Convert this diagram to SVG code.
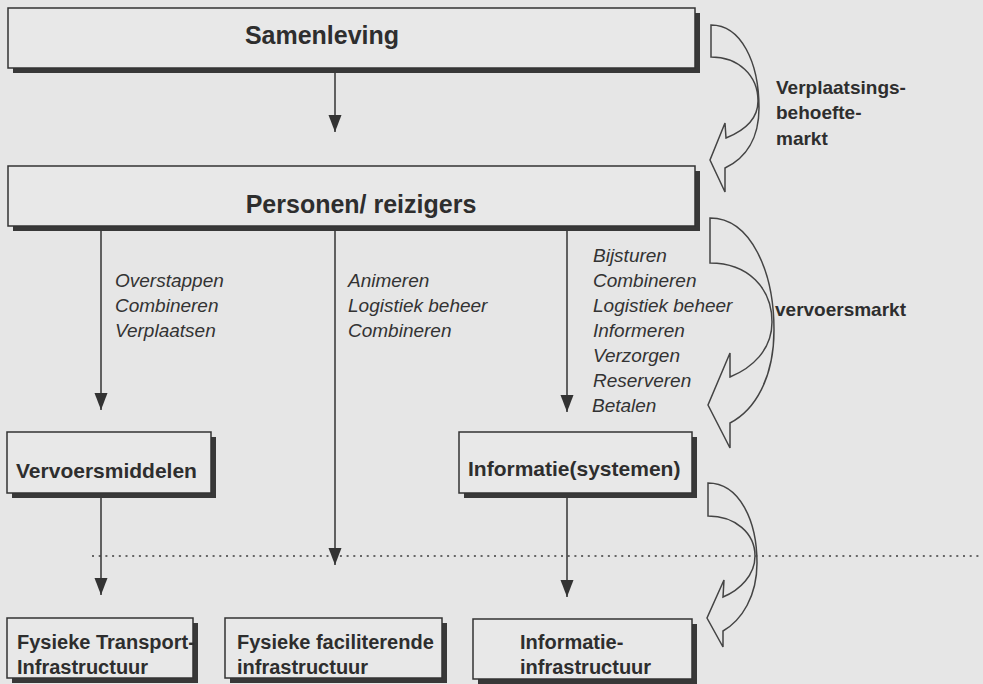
<svg xmlns="http://www.w3.org/2000/svg" width="983" height="684" viewBox="0 0 983 684">
  <defs>
    <style>
      .bg{fill:#e6e6e6}
      .box{fill:#e8e8e8;stroke:#333;stroke-width:1.5}
      .shadow{fill:none;stroke:#383838;stroke-width:5}
      .lbl{font-family:"Liberation Sans",Arial,sans-serif;font-weight:bold;fill:#2e2e2e}
      .big{font-size:25px}
      .mid{font-size:21px}
      .sm{font-size:20px}
      .side{font-family:"Liberation Sans",Arial,sans-serif;font-weight:bold;font-size:19px;fill:#2e2e2e}
      .it{font-family:"Liberation Sans",Arial,sans-serif;font-style:italic;font-size:19px;fill:#333}
      .conn{stroke:#333;stroke-width:1.5;fill:none}
      .curve{fill:none;stroke:#444;stroke-width:1.5;stroke-linejoin:miter}
      .dots{stroke:#666;stroke-width:2;stroke-dasharray:2 4.7;fill:none}
    </style>
    <marker id="ah" markerUnits="userSpaceOnUse" markerWidth="18" markerHeight="14" refX="17" refY="6.5" orient="auto">
      <path d="M0,0 L17,6.5 L0,13 z" fill="#333"/>
    </marker>
  </defs>

  <rect class="bg" x="0" y="0" width="983" height="684"/>

  <!-- boundary between layers -->
  <path class="dots" d="M92,556 H983"/>

  <g id="samenleving">
    <path class="shadow" d="M13,70.5 H697.5 V13"/>
    <rect class="box" x="8" y="8" width="687" height="60"/>
    <text class="lbl big" x="322" y="44" text-anchor="middle">Samenleving</text>
  </g>

  <g id="personen">
    <path class="shadow" d="M13,228.5 H697.5 V171"/>
    <rect class="box" x="8" y="166" width="687" height="60"/>
    <text class="lbl big" x="361" y="213" text-anchor="middle">Personen/ reizigers</text>
  </g>

  <g id="vervoersmiddelen">
    <path class="shadow" d="M12,495.5 H213.5 V437"/>
    <rect class="box" x="7" y="432" width="204" height="61"/>
    <text class="lbl mid" x="16" y="478">Vervoersmiddelen</text>
  </g>

  <g id="informatiesystemen">
    <path class="shadow" d="M464,495.5 H694.5 V437"/>
    <rect class="box" x="459" y="432" width="233" height="61"/>
    <text class="lbl mid" x="468" y="476">Informatie(systemen)</text>
  </g>

  <g id="transport-infra">
    <path class="shadow" d="M12,680.5 H195.5 V623"/>
    <rect class="box" x="7" y="618" width="186" height="60"/>
    <text class="lbl sm" x="17" y="649">Fysieke Transport-</text>
    <text class="lbl sm" x="17" y="674">Infrastructuur</text>
  </g>

  <g id="faciliterende-infra">
    <path class="shadow" d="M230,680.5 H444.5 V623"/>
    <rect class="box" x="225" y="618" width="217" height="60"/>
    <text class="lbl sm" x="237" y="649">Fysieke faciliterende</text>
    <text class="lbl sm" x="237" y="674">infrastructuur</text>
  </g>

  <g id="informatie-infra">
    <path class="shadow" d="M478,681.5 H694.5 V624"/>
    <rect class="box" x="473" y="619" width="219" height="60"/>
    <text class="lbl sm" x="520" y="649">Informatie-</text>
    <text class="lbl sm" x="520" y="674">infrastructuur</text>
  </g>

  <g id="connectors">
    <path class="conn" d="M335,73 V132" marker-end="url(#ah)"/>
    <path class="conn" d="M101,231 V410" marker-end="url(#ah)"/>
    <path class="conn" d="M335,231 V565" marker-end="url(#ah)"/>
    <path class="conn" d="M567,231 V412" marker-end="url(#ah)"/>
    <path class="conn" d="M101,498 V595" marker-end="url(#ah)"/>
    <path class="conn" d="M567,498 V597" marker-end="url(#ah)"/>
  </g>

  <g id="activity-labels">
    <text class="it" x="115" y="287">Overstappen</text>
    <text class="it" x="115" y="312">Combineren</text>
    <text class="it" x="115" y="337">Verplaatsen</text>
    <text class="it" x="348" y="287">Animeren</text>
    <text class="it" x="348" y="312">Logistiek beheer</text>
    <text class="it" x="348" y="337">Combineren</text>
    <text class="it" x="593" y="262">Bijsturen</text>
    <text class="it" x="593" y="287">Combineren</text>
    <text class="it" x="593" y="312">Logistiek beheer</text>
    <text class="it" x="593" y="337">Informeren</text>
    <text class="it" x="593" y="362">Verzorgen</text>
    <text class="it" x="593" y="387">Reserveren</text>
    <text class="it" x="592" y="412">Betalen</text>
  </g>

  <!-- market arrows on the right -->
  <g id="verplaatsingsbehoeftemarkt">
    <path class="curve" d="M711,25 C741,25 759,62 759,108 C759,138 746,158 725,168 L725,192 L710,160 L725,123 L726,138 C746,130 758,118 758,101 C758,75 738,57 711,57 Z"/>
    <text class="side" x="776" y="94">Verplaatsings-</text>
    <text class="side" x="776" y="119">behoefte-</text>
    <text class="side" x="776" y="145">markt</text>
  </g>

  <g id="vervoersmarkt">
    <path class="curve" d="M710,218 C751,218 774,272 774,330 C774,378 755,410 730,423 L730,448 L708,405 L730,353 L730,377 C752,368 772,350 772,322 C772,288 748,263 710,263 Z"/>
    <text class="side" x="775" y="316">vervoersmarkt</text>
  </g>

  <g id="infrastructuurmarkt">
    <path class="curve" d="M708,483 C739,483 757,520 757,563 C757,596 742,620 723,631 L723,647 L707,618 L724,580 L723,597 C740,590 755,575 755,556 C755,533 735,516 708,516 Z"/>
  </g>
</svg>
